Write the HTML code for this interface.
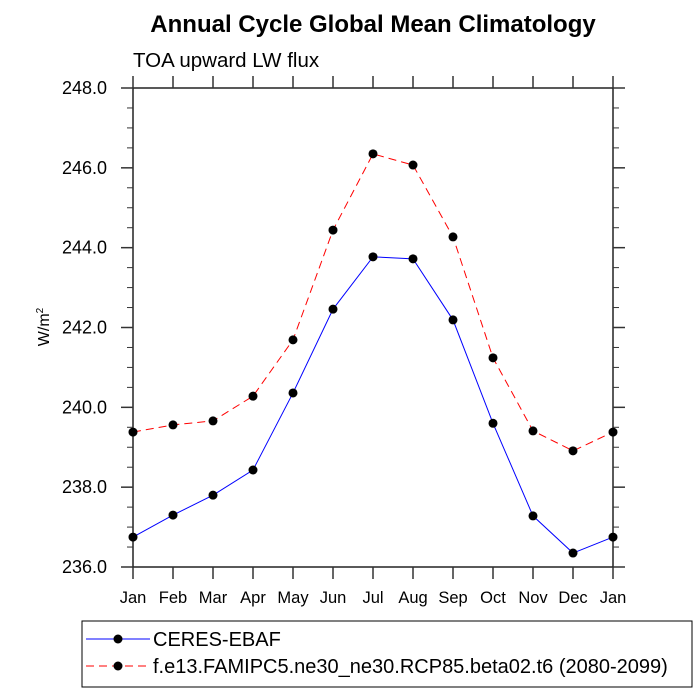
<!DOCTYPE html>
<html><head><meta charset="utf-8"><style>body{margin:0;background:#fff}svg{display:block}text{font-family:"Liberation Sans",sans-serif}</style></head>
<body>
<svg id="chart" width="700" height="700">
<text x="373" y="32" font-size="24" font-weight="bold" text-anchor="middle">Annual Cycle Global Mean Climatology</text>
<text x="133" y="67" font-size="20.5">TOA upward LW flux</text>
<text transform="translate(49,327) rotate(-90)" font-size="16" text-anchor="middle">W/m<tspan dy="-6" font-size="10">2</tspan></text>
<g id="axes"></g><g id="series"></g>
<rect x="82" y="621" width="610" height="66" fill="none" stroke="#000" stroke-width="1"/>
<line x1="86" y1="639" x2="150" y2="639" stroke="#00f"/>
<circle cx="118" cy="639" r="4.5"/>
<text x="153" y="646" font-size="20">CERES-EBAF</text>
<line x1="86" y1="666" x2="150" y2="666" stroke="#f00" stroke-dasharray="8,5"/>
<circle cx="118" cy="666" r="4.5"/>
<text x="153" y="673" font-size="20">f.e13.FAMIPC5.ne30_ne30.RCP85.beta02.t6 (2080-2099)</text>
</svg>
<script>
const months=["Jan","Feb","Mar","Apr","May","Jun","Jul","Aug","Sep","Oct","Nov","Dec","Jan"];
const ceres=[236.75,237.30,237.80,238.43,240.36,242.46,243.77,243.72,242.19,239.60,237.28,236.35,236.75];
const model=[239.38,239.56,239.66,240.28,241.69,244.44,246.35,246.07,244.27,241.24,239.41,238.91,239.38];
const yTicks=[236,238,240,242,244,246,248];
const yTickLabels=["236.0","238.0","240.0","242.0","244.0","246.0","248.0"];
const X0=133,X1=613,Y0=567,Y1=88,ymin=236,ymax=248;
const xs=i=>X0+i*(X1-X0)/(months.length-1);
const ys=v=>Y0-(v-ymin)/(ymax-ymin)*(Y0-Y1);
const NS="http://www.w3.org/2000/svg";
function mk(p,t,a){const e=document.createElementNS(NS,t);for(const k in a)e.setAttribute(k,a[k]);p.appendChild(e);return e;}
const ax=document.getElementById('axes');
const fr=mk(ax,'rect',{x:X0,y:Y1,width:X1-X0,height:Y0-Y1,fill:'none',stroke:'#222','stroke-width':1.5});


months.forEach((m,i)=>{const x=xs(i);
mk(ax,'line',{x1:x,y1:Y0,x2:x,y2:Y0+12,stroke:'#333','stroke-width':1.5});
mk(ax,'line',{x1:x,y1:Y1,x2:x,y2:Y1-12,stroke:'#333','stroke-width':1.5});
const t=mk(ax,'text',{x:x,y:Y0+36,'font-size':16.5,'text-anchor':'middle'});t.textContent=m;

});
for(let v=ymin;v<=ymax+1e-9;v+=0.5){const y=ys(v);const maj=Math.abs(v/2-Math.round(v/2))<1e-9;const L=maj?12:6;
mk(ax,'line',{x1:X0-L,y1:y,x2:X0,y2:y,stroke:'#333','stroke-width':maj?1.5:1});
mk(ax,'line',{x1:X1,y1:y,x2:X1+L,y2:y,stroke:'#333','stroke-width':maj?1.5:1});}
yTicks.forEach((v,i)=>{const t=mk(ax,'text',{x:X0-26,y:ys(v)+6,'font-size':18,'text-anchor':'end'});t.textContent=yTickLabels[i];

});
const sg=document.getElementById('series');
function draw(d,col,dash,name){const pl=mk(sg,'polyline',{points:d.map((v,i)=>xs(i)+','+ys(v)).join(' '),fill:'none',stroke:col,'stroke-width':1,'stroke-dasharray':dash});


d.forEach((v,i)=>{const c=mk(sg,'circle',{cx:xs(i),cy:ys(v),r:4.5,fill:'#000'});

});}
draw(model,'#f00','8,5','model');
draw(ceres,'#00f','none','ceres');
</script>
</body></html>
